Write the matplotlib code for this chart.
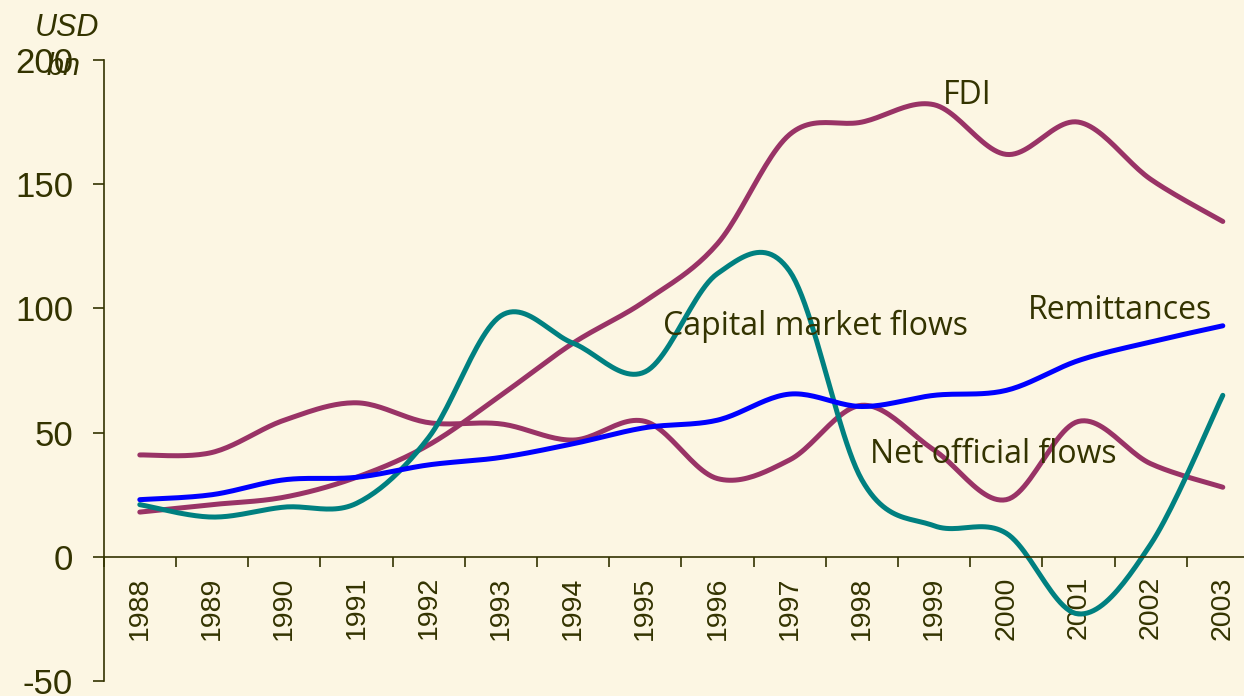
import numpy as np
import matplotlib
matplotlib.use("Agg")
import matplotlib.pyplot as plt

years = ["1988", "1989", "1990", "1991", "1992", "1993", "1994", "1995",
         "1996", "1997", "1998", "1999", "2000", "2001", "2002", "2003"]
fdi = [18, 21, 24, 32, 45, 65, 86, 103, 126, 170, 175, 182, 162, 175, 152, 135]
remittances = [23, 25, 31, 32, 37, 40, 45.5, 52, 55, 65.5, 60.5, 65, 67, 79, 86.5, 93]
capital_market = [21, 16, 20, 21.5, 48, 97, 86, 74.5, 114, 115, 31, 12.5, 9.5, -23, 5, 65]
net_official = [41, 42, 55, 62, 54, 53.5, 47, 54.5, 31.5, 39, 61, 43, 23, 54.5, 37.5, 28]

BG = "#FCF6E3"
TXT = "#333300"
PLUM = "#993366"
TEAL = "#008080"
BLUE = "#0000FF"


def smooth(xs, ys, n=24):
    """Excel-like smoothed line (Catmull-Rom Bezier) through the points."""
    xs = np.asarray(xs, float)
    ys = np.asarray(ys, float)
    P = np.column_stack([xs, ys])
    out = []
    m = len(P)
    for i in range(m - 1):
        p0 = P[i - 1] if i > 0 else P[i]
        p1 = P[i]
        p2 = P[i + 1]
        p3 = P[i + 2] if i + 2 < m else P[i + 1]
        c1 = p1 + (p2 - p0) / 6.0
        c2 = p2 - (p3 - p1) / 6.0
        t = np.linspace(0, 1, n, endpoint=(i == m - 2))[:, None]
        seg = ((1 - t) ** 3) * p1 + 3 * ((1 - t) ** 2) * t * c1 + 3 * (1 - t) * t ** 2 * c2 + t ** 3 * p2
        out.append(seg)
    out = np.vstack(out)
    return out[:, 0], out[:, 1]


W, H = 1244, 696
fig = plt.figure(figsize=(W / 100, H / 100), dpi=100, facecolor=BG)
ax_left = 103.7 / W
ax_w = (72.2 * 16) / W
ax_bottom = (H - 681) / H
ax_top = (H - 60) / H
ax = fig.add_axes([ax_left, ax_bottom, ax_w, ax_top - ax_bottom])
ax.set_facecolor(BG)

x = np.arange(len(years))
for series, col in [(fdi, PLUM), (net_official, PLUM), (capital_market, TEAL), (remittances, BLUE)]:
    sx, sy = smooth(x, series)
    ax.plot(sx, sy, color=col, lw=3.6, solid_capstyle="round", solid_joinstyle="round")

ax.set_xlim(-0.5, len(years) - 0.5)
ax.set_ylim(-50, 200)

for s in ["top", "right"]:
    ax.spines[s].set_visible(False)
ax.spines["bottom"].set_position(("data", 0))
for s in ["left", "bottom"]:
    ax.spines[s].set_color(TXT)
    ax.spines[s].set_linewidth(1.2)

ax.set_yticks([-50, 0, 50, 100, 150, 200])
ax.set_yticklabels(["-50", "0", "50", "100", "150", "200"])
ax.tick_params(axis="y", direction="out", length=8, width=1.2, color=TXT,
               labelcolor=TXT, labelsize=25, pad=14)
for lab in ax.get_yticklabels():
    lab.set_fontfamily("Liberation Sans")

ax.set_xticks(np.arange(-0.5, len(years), 1.0))
ax.set_xticklabels([])
ax.set_xticks(x, minor=True)
ax.set_xticklabels(years, minor=True, rotation=90, fontsize=20.5,
                   fontfamily="Liberation Sans", color=TXT, va="top", ha="center")
ax.tick_params(axis="x", which="major", direction="out", length=7.5, width=1.2, color=TXT)
ax.tick_params(axis="x", which="minor", length=0, pad=14)

lab_kw = dict(fontsize=23, color=TXT, fontfamily="Open Sans", ha="left", va="baseline")
ax.text(11.12, 182.4, "FDI", **lab_kw)
ax.text(12.30, 95.7, "Remittances", **lab_kw)
ax.text(7.25, 89.3, "Capital market flows", **lab_kw)
ax.text(10.11, 37.8, "Net official flows", **lab_kw)

fig.text(67 / W, 1 - 36 / H, "USD", fontsize=22, style="italic", color=TXT,
         fontfamily="Liberation Sans", ha="center", va="baseline")
fig.text(64 / W, 1 - 75 / H, "bn", fontsize=22, style="italic", color=TXT,
         fontfamily="Liberation Sans", ha="center", va="baseline")

fig.savefig("out.png", dpi=100, facecolor=BG)
